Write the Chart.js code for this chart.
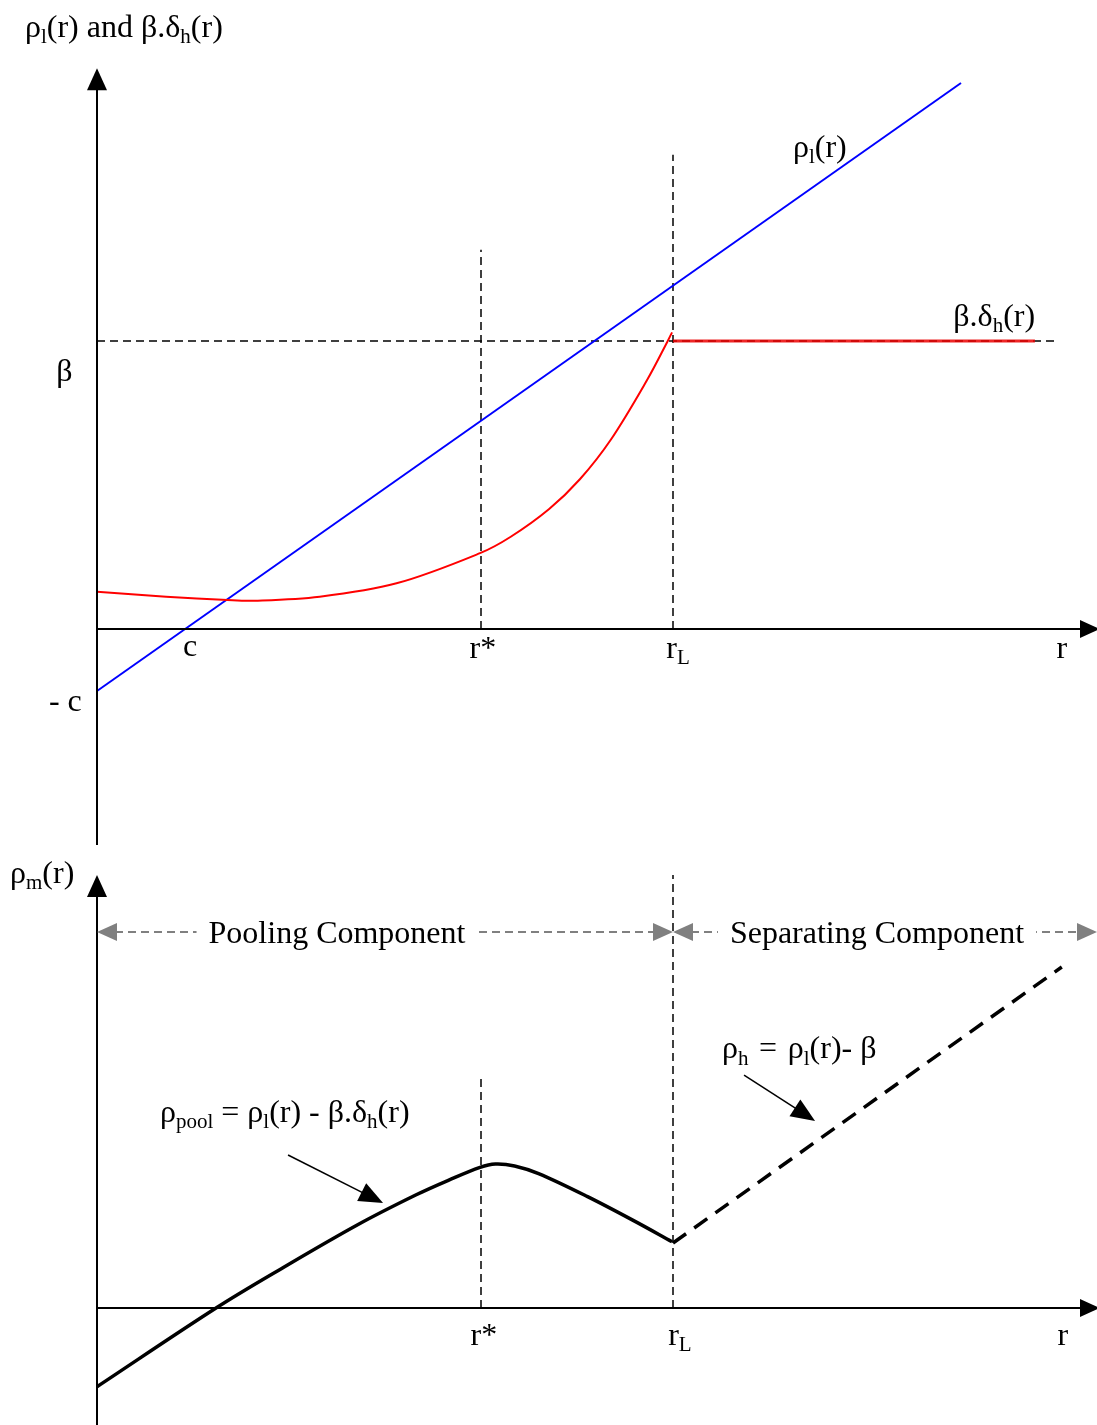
<!DOCTYPE html>
<html>
<head>
<meta charset="utf-8">
<script src="https://cdn.jsdelivr.net/npm/chart.js@4"></script>
<style>
  body { margin: 0; background: #fff; }
  canvas { position: absolute; left: 0; }
  #chart-top { top: 0; }
  #chart-bottom { top: 850px; }
</style>
</head>
<body>
<canvas id="chart-top" width="1097" height="850"></canvas>
<canvas id="chart-bottom" width="1097" height="575"></canvas>
<script>
// key points on the r axis and the beta level
const rC = 0.97, rStar = 4.0, rL = 6.0, rEnd = 10.05;
const beta = 3.0;

// top panel: rho_l(r) (blue) and beta.delta_h(r) (red)
const blueR = [0, 9.0];
const blueY = [-0.646, 5.687];
const redR = [0, 0.72, 1.36, 1.64, 2.32, 3.12, 3.99, 4.31, 4.71, 5.03, 5.35, 5.73, 5.94, 5.99];
const redY = [0.389, 0.337, 0.302, 0.295, 0.337, 0.476, 0.79, 0.961, 1.25, 1.56, 1.969, 2.594, 2.99, 3.09];
const redFlatR = [rL, 9.77];

// bottom panel: rho_m(r)
const poolR = [0, 1.24, 1.92, 2.72, 3.32, 3.66, 3.99, 4.15, 4.35, 4.6, 5.11, 5.59, 5.99];
const poolY = [-0.82, 0, 0.41, 0.87, 1.177, 1.33, 1.465, 1.5, 1.48, 1.4, 1.16, 0.91, 0.69];
const sepR = [rL, rEnd];
const sepY = [0.677, 3.552];

const FONT = '"Liberation Serif", "Times New Roman", serif';
const FS = 32;

function pts(xs, ys) {
    return xs.map((x, i) => ({x: x, y: ys[i]}));
}

function drawRich(ctx, x, y, parts, align) {
    const sub = Math.round(FS * 0.66);
    let w = 0;
    parts.forEach(p => {
        ctx.font = (p[1] ? sub : FS) + 'px ' + FONT;
        w += ctx.measureText(p[0]).width;
    });
    let cx = x;
    if (align === 'center') cx = x - w / 2;
    ctx.textAlign = 'left';
    ctx.textBaseline = 'alphabetic';
    ctx.fillStyle = '#000';
    parts.forEach(p => {
        ctx.font = (p[1] ? sub : FS) + 'px ' + FONT;
        ctx.fillText(p[0], cx, y + (p[1] ? FS * 0.2 : 0));
        cx += ctx.measureText(p[0]).width;
    });
}

function arrowHead(ctx, tx, ty, fx, fy, len, half, color) {
    const a = Math.atan2(ty - fy, tx - fx);
    ctx.fillStyle = color;
    ctx.beginPath();
    ctx.moveTo(tx, ty);
    ctx.lineTo(tx - len * Math.cos(a) + half * Math.sin(a), ty - len * Math.sin(a) - half * Math.cos(a));
    ctx.lineTo(tx - len * Math.cos(a) - half * Math.sin(a), ty - len * Math.sin(a) + half * Math.cos(a));
    ctx.closePath();
    ctx.fill();
}

// draws axes, arrows and labels on top of the datasets
const diagramPlugin = {
    id: 'diagram',
    afterDatasetsDraw(chart, args, opts) {
        const ctx = chart.ctx;
        const xs = chart.scales.x, ys = chart.scales.y;
        const px = v => xs.getPixelForValue(v);
        const py = v => ys.getPixelForValue(v);
        ctx.save();
        // axes
        ctx.strokeStyle = '#000';
        ctx.lineWidth = 2;
        ctx.setLineDash([]);
        ctx.beginPath();
        ctx.moveTo(px(0), py(opts.yAxisFrom));
        ctx.lineTo(px(0), py(opts.yAxisTo) + 18);
        ctx.moveTo(px(0), py(0));
        ctx.lineTo(chart.width - 14, py(0));
        ctx.stroke();
        arrowHead(ctx, px(0), py(opts.yAxisTo), px(0), py(0), 22, 10, '#000');
        arrowHead(ctx, chart.width + 3, py(0), px(0), py(0), 20, 9, '#000');

        // gray component arrows
        if (opts.components) {
            const gy = py(opts.components.y);
            ctx.strokeStyle = '#808080';
            ctx.lineWidth = 2;
            ctx.setLineDash([8, 5]);
            ctx.beginPath();
            ctx.moveTo(px(0) + 18, gy);
            ctx.lineTo(px(rL) - 18, gy);
            ctx.moveTo(px(rL) + 18, gy);
            ctx.lineTo(chart.width - 16, gy);
            ctx.stroke();
            ctx.setLineDash([]);
            arrowHead(ctx, px(0), gy, px(1), gy, 20, 9, '#808080');
            arrowHead(ctx, px(rL), gy, px(0), gy, 20, 9, '#808080');
            arrowHead(ctx, px(rL), gy, px(9), gy, 20, 9, '#808080');
            arrowHead(ctx, chart.width, gy, px(0), gy, 20, 9, '#808080');
            opts.components.labels.forEach(l => {
                ctx.font = FS + 'px ' + FONT;
                const w = ctx.measureText(l.text).width;
                ctx.fillStyle = '#fff';
                ctx.fillRect(px(l.r) - w / 2 - 12, gy - 20, w + 24, 40);
                drawRich(ctx, px(l.r), gy + 11, [[l.text]], 'center');
            });
        }

        // pointer arrows
        (opts.pointers || []).forEach(p => {
            const x1 = px(p.from[0]), y1 = py(p.from[1]);
            const x2 = px(p.to[0]), y2 = py(p.to[1]);
            const a = Math.atan2(y2 - y1, x2 - x1);
            ctx.strokeStyle = '#000';
            ctx.lineWidth = 1.5;
            ctx.beginPath();
            ctx.moveTo(x1, y1);
            ctx.lineTo(x2 - 18 * Math.cos(a), y2 - 18 * Math.sin(a));
            ctx.stroke();
            arrowHead(ctx, x2, y2, x1, y1, 24, 10, '#000');
        });

        // text labels
        opts.labels.forEach(l => {
            drawRich(ctx, px(l.r), py(l.y), l.parts, l.align);
        });
        ctx.restore();
    }
};

function line(data, color, width, dash, order, extra) {
    return Object.assign({
        data: data,
        showLine: true,
        borderColor: color,
        borderWidth: width,
        borderDash: dash || [],
        pointRadius: 0,
        fill: false,
        order: order
    }, extra || {});
}

function baseOptions(yMin, yMax, diagram) {
    return {
        responsive: false,
        animation: false,
        events: [],
        layout: { padding: 0 },
        plugins: {
            legend: { display: false },
            tooltip: { enabled: false },
            diagram: diagram
        },
        scales: {
            x: { type: 'linear', display: false, min: -97 / 96, max: 1000 / 96 },
            y: { type: 'linear', display: false, min: yMin, max: yMax }
        }
    };
}

var chart_top = new Chart(document.getElementById('chart-top'), {
    type: 'scatter',
    plugins: [diagramPlugin],
    data: {
        datasets: [
            line(pts(redFlatR, [beta, beta]), 'rgba(235,0,0,0.85)', 3, null, 1),
            line(pts(redR, redY), '#ff0000', 2, null, 2, { tension: 0.35 }),
            line(pts(blueR, blueY), '#0000ff', 2, null, 3),
            line(pts([0, 10.01], [beta, beta]), '#000', 1.5, [8, 5], 4),
            line(pts([rStar, rStar], [0, 3.95]), '#000', 1.5, [8, 5], 5),
            line(pts([rL, rL], [0, 4.94]), '#000', 1.5, [8, 5], 6)
        ]
    },
    options: baseOptions(-221 / 96, 629 / 96, {
        yAxisFrom: -2.25,
        yAxisTo: 5.84,
        labels: [
            { r: -0.75, y: 6.17, parts: [['ρ'], ['l', 1], ['(r) and β.δ'], ['h', 1], ['(r)']] },
            { r: 7.25, y: 4.92, parts: [['ρ'], ['l', 1], ['(r)']] },
            { r: 8.92, y: 3.16, parts: [['β.δ'], ['h', 1], ['(r)']] },
            { r: -0.34, y: 2.58, parts: [['β']], align: 'center' },
            { r: rC, y: -0.28, parts: [['c']], align: 'center' },
            { r: -0.33, y: -0.85, parts: [['- c']], align: 'center' },
            { r: rStar + 0.02, y: -0.30, parts: [['r*']], align: 'center' },
            { r: rL - 0.07, y: -0.30, parts: [['r'], ['L', 1]] },
            { r: rEnd, y: -0.30, parts: [['r']], align: 'center' }
        ]
    })
});

var chart_bottom = new Chart(document.getElementById('chart-bottom'), {
    type: 'scatter',
    plugins: [diagramPlugin],
    data: {
        datasets: [
            line(pts(poolR, poolY), '#000', 3.5, null, 1, { tension: 0.35 }),
            line(pts(sepR, sepY), '#000', 3.5, [16, 10], 2),
            line(pts([rStar, rStar], [0, 2.43]), '#000', 1.5, [8, 5], 3),
            line(pts([rL, rL], [0, 4.51]), '#000', 1.5, [8, 5], 4)
        ]
    },
    options: baseOptions(-117 / 96, 458 / 96, {
        yAxisFrom: -1.22,
        yAxisTo: 4.51,
        components: {
            y: 3.917,
            labels: [
                { r: 2.5, text: 'Pooling Component' },
                { r: 8.125, text: 'Separating Component' }
            ]
        },
        pointers: [
            { from: [1.99, 1.594], to: [2.98, 1.094] },
            { from: [6.74, 2.427], to: [7.48, 1.948] }
        ],
        labels: [
            { r: -0.906, y: 4.43, parts: [['ρ'], ['m', 1], ['(r)']] },
            { r: 0.656, y: 1.94, parts: [['ρ'], ['pool', 1], [' = ρ'], ['l', 1], ['(r) - β.δ'], ['h', 1], ['(r)']] },
            { r: 6.51, y: 2.60, parts: [['ρ'], ['h', 1], [' \u200a=\u200a ρ'], ['l', 1], ['(r)- β']] },
            { r: rStar + 0.03, y: -0.385, parts: [['r*']], align: 'center' },
            { r: rL - 0.05, y: -0.385, parts: [['r'], ['L', 1]] },
            { r: rEnd + 0.01, y: -0.385, parts: [['r']], align: 'center' }
        ]
    })
});
</script>
</body>
</html>
